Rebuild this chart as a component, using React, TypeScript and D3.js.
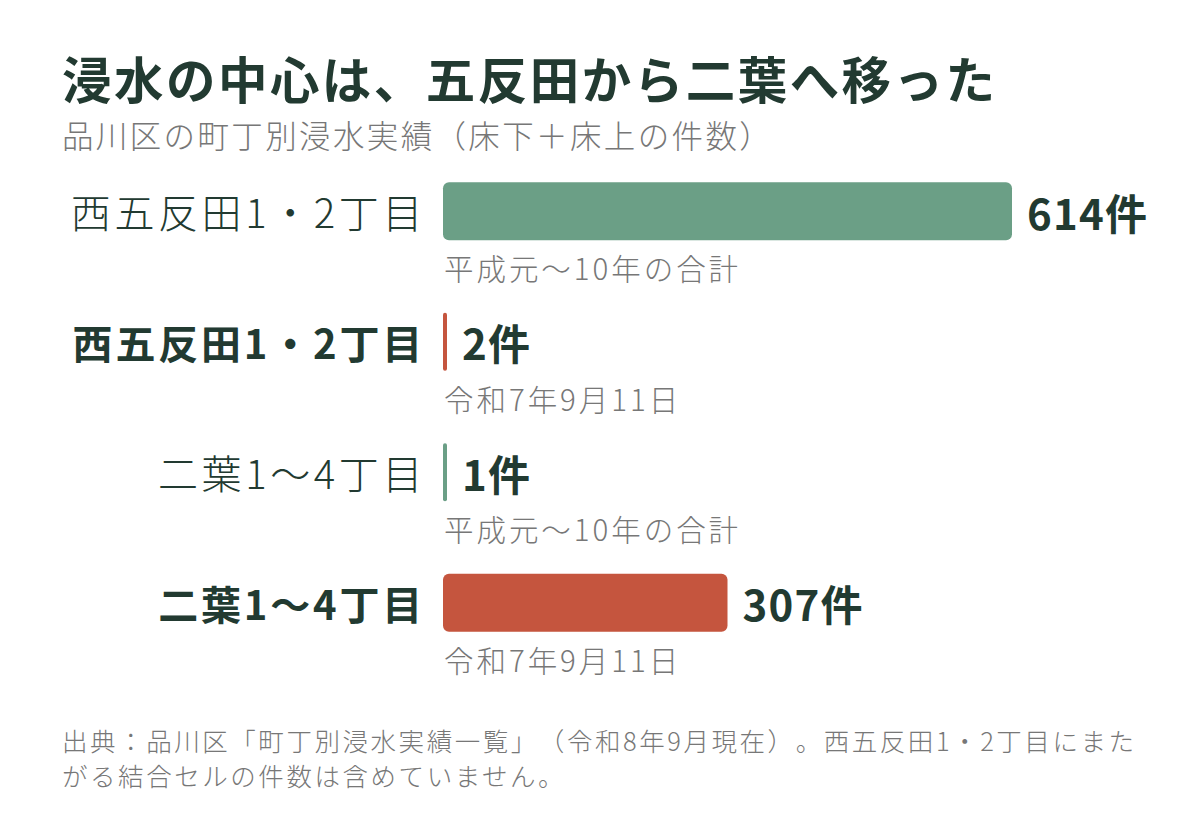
import React, { useRef, useEffect } from "react";
import * as d3 from "d3";

// rows, top to bottom
const areas = ["西五反田1・2丁目", "西五反田1・2丁目", "二葉1〜4丁目", "二葉1〜4丁目"];
const counts = [614, 2, 1, 307];
const periods = ["平成元〜10年の合計", "令和7年9月11日", "平成元〜10年の合計", "令和7年9月11日"];
const eras = ["heisei", "reiwa", "heisei", "reiwa"];

const title = "浸水の中心は、五反田から二葉へ移った";
const subtitle = "品川区の町丁別浸水実績（床下＋床上の件数）";
const footnote = [
  "出典：品川区「町丁別浸水実績一覧」（令和8年9月現在）。西五反田1・2丁目にまた",
  "がる結合セルの件数は含めていません。",
];

const FONT = "'Noto Sans CJK JP', 'Noto Sans', sans-serif";
const INK = "#223a31";
const GRAY = "#777777";

const App: React.FC = () => {
  const svgRef = useRef<SVGSVGElement>(null);

  useEffect(() => {
    document.body.style.margin = "0";
    const width = 1200;
    const height = 826;

    const svg = d3.select(svgRef.current);
    svg.selectAll("*").remove();
    svg.attr("font-family", FONT)
      .attr("style", "display:block; text-spacing-trim: space-all;");

    svg.append("rect").attr("width", width).attr("height", height).attr("fill", "#fff");

    svg.append("text")
      .attr("x", 62).attr("y", 99)
      .attr("font-size", 49.5).attr("font-weight", 700)
      .attr("letter-spacing", "0.05em")
      .attr("fill", INK)
      .text(title);

    svg.append("text")
      .attr("x", 62).attr("y", 148)
      .attr("font-size", 31.5).attr("font-weight", 300)
      .attr("letter-spacing", "0.075em")
      .attr("fill", GRAY)
      .text(subtitle);

    const x = d3.scaleLinear().domain([0, 614]).range([443, 1012]);
    const y = d3.scaleBand<number>().domain(d3.range(counts.length)).range([147, 667]).paddingInner(0.555).paddingOuter(0.27);
    const color = d3.scaleOrdinal<string, string>().domain(["heisei", "reiwa"]).range(["#6b9f86", "#c5553e"]);

    const minW = 4;
    const barW = (i: number) => Math.max(minW, x(counts[i]) - x(0));

    const rows = svg.append("g").selectAll("g")
      .data(d3.range(counts.length))
      .enter().append("g");

    rows.append("rect")
      .attr("x", x(0))
      .attr("y", i => y(i)!)
      .attr("width", barW)
      .attr("height", y.bandwidth())
      .attr("rx", i => Math.min(6, barW(i) / 2))
      .attr("fill", i => color(eras[i]));

    rows.append("text")
      .attr("x", i => (eras[i] === "reiwa" ? 425 : 426))
      .attr("y", i => y(i)! + y.bandwidth() / 2)
      .attr("dominant-baseline", "central")
      .attr("text-anchor", "end")
      .attr("font-size", 40)
      .attr("letter-spacing", i => (eras[i] === "reiwa" ? "0.07em" : "0.09em"))
      .attr("font-weight", i => (eras[i] === "reiwa" ? 700 : 300))
      .attr("fill", INK)
      .text(i => areas[i]);

    rows.append("text")
      .attr("x", i => x(0) + barW(i) + 15)
      .attr("y", i => y(i)! + y.bandwidth() / 2)
      .attr("dominant-baseline", "central")
      .attr("font-size", 42)
      .attr("letter-spacing", "0.03em")
      .attr("font-weight", 700)
      .attr("fill", INK)
      .text(i => `${counts[i]}件`);

    rows.append("text")
      .attr("x", x(0) + 1)
      .attr("y", i => y(i)! + y.bandwidth() + 27)
      .attr("dominant-baseline", "central")
      .attr("font-size", 29.5)
      .attr("font-weight", 300)
      .attr("letter-spacing", "0.1em")
      .attr("fill", GRAY)
      .text(i => periods[i]);

    // footnote: one text, wrapped in two lines
    svg.append("text")
      .attr("font-size", 25.5)
      .attr("font-weight", 300)
      .attr("letter-spacing", "0.1em")
      .attr("fill", GRAY)
      .selectAll("tspan")
      .data(footnote)
      .enter().append("tspan")
      .attr("x", 62)
      .attr("y", (_, i) => 751 + i * 35)
      .text(d => d);
  }, []);

  return <svg ref={svgRef} width={1200} height={826}></svg>;
};

export default App;
